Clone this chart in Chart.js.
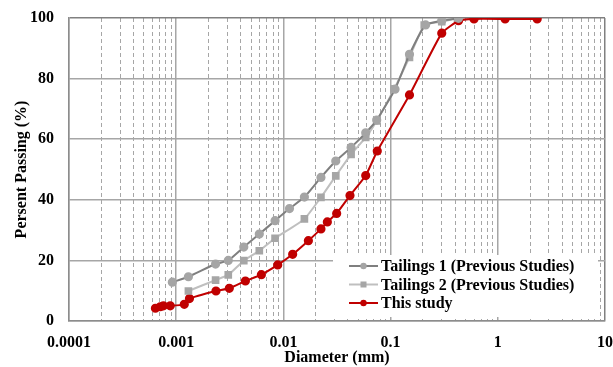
<!DOCTYPE html>
<html>
<head>
<meta charset="utf-8">
<script src="https://cdn.jsdelivr.net/npm/chart.js@4.4.0/dist/chart.umd.min.js"></script>
<style>
  html, body { margin: 0; padding: 0; background: #fff; }
</style>
</head>
<body>
<canvas id="psd" width="613" height="367"></canvas>
<script>
"use strict";
// grain size distribution
const seriesNames = ["Tailings 1 (Previous Studies)", "Tailings 2 (Previous Studies)", "This study"];

const t1Diam = [0.00092, 0.0013, 0.00233, 0.00306, 0.00427, 0.00596, 0.00836, 0.0114, 0.0157, 0.0224, 0.0308, 0.0428, 0.0586, 0.0742, 0.110, 0.150, 0.212, 0.30, 0.43];
const t1Pass = [12.8, 14.6, 18.8, 20.0, 24.4, 28.7, 33.1, 37.1, 40.9, 47.4, 52.8, 57.3, 62.1, 66.3, 76.5, 88.0, 97.7, 99.1, 99.9];

const t2Diam = [0.0013, 0.00233, 0.00306, 0.00427, 0.00596, 0.00836, 0.0157, 0.0224, 0.0308, 0.0428, 0.0586, 0.0742, 0.108, 0.150, 0.206, 0.30, 0.42];
const t2Pass = [9.9, 13.5, 15.2, 19.9, 23.2, 27.3, 33.7, 40.8, 47.9, 55.0, 60.6, 66.0, 76.6, 87.0, 97.7, 98.8, 100];

const studyDiam = [0.00064, 0.00071, 0.00076, 0.00088, 0.00119, 0.00133, 0.00235, 0.00313, 0.00442, 0.00623, 0.00885, 0.0122, 0.0171, 0.0224, 0.0257, 0.0314, 0.0418, 0.0586, 0.0751, 0.150, 0.30, 0.43, 0.60, 1.17, 2.33];
const studyPass = [4.2, 4.7, 5.0, 5.0, 5.5, 7.4, 9.9, 10.8, 13.2, 15.3, 18.5, 22.0, 26.5, 30.4, 32.7, 35.5, 41.4, 48.0, 56.1, 74.6, 95.0, 99.1, 99.7, 99.7, 99.7];

const xTickValues = [0.0001, 0.001, 0.01, 0.1, 1, 10];
const xTickLabels = ["0.0001", "0.001", "0.01", "0.1", "1", "10"];
const minorMultipliers = [2, 3, 4, 5, 6, 7, 8, 9];

const FONT = "'Liberation Serif', 'Times New Roman', serif";

function pts(xs, ys) {
  return xs.map((x, i) => ({ x: x, y: ys[i] }));
}

const minorTicks = [];
xTickValues.slice(0, -1).forEach((d) => {
  minorMultipliers.forEach((m) => minorTicks.push({ value: m * d }));
});

// tick padding otherwise leaks into the outer layout margins
function noEdgePadding(s) {
  s.paddingLeft = 0;
  s.paddingRight = 0;
  s.paddingTop = 0;
  s.paddingBottom = 0;
}

// legend drawn inside the plot, on a white box, like the original
const insideLegend = {
  id: "insideLegend",
  afterDraw(chart) {
    const ctx = chart.ctx;
    const a = chart.chartArea;
    const left = a.left + 264;
    const top = a.bottom - 66;
    ctx.save();
    ctx.fillStyle = "#fff";
    ctx.fillRect(left, top, 265, 62);
    chart.data.datasets.forEach((ds, i) => {
      const y = top + 11 + i * 18.5;
      ctx.strokeStyle = ds.borderColor;
      ctx.lineWidth = 2;
      ctx.beginPath();
      ctx.moveTo(left + 16, y);
      ctx.lineTo(left + 45, y);
      ctx.stroke();
      ctx.fillStyle = ds.pointBackgroundColor;
      const cx = left + 30.5;
      if (ds.pointStyle === "rect") {
        ctx.fillRect(cx - 3, y - 3, 6, 6);
      } else {
        ctx.beginPath();
        ctx.arc(cx, y, 3.2, 0, Math.PI * 2);
        ctx.fill();
      }
      ctx.fillStyle = "#000";
      ctx.font = "bold 16px " + FONT;
      ctx.textBaseline = "middle";
      ctx.textAlign = "left";
      ctx.fillText(ds.label, left + 48, y + 1);
    });
    ctx.restore();
  },
};

const ctx = document.getElementById("psd").getContext("2d");
new Chart(ctx, {
  type: "line",
  data: {
    datasets: [
      {
        label: seriesNames[0],
        data: pts(t1Diam, t1Pass),
        borderColor: "#7f7f7f",
        borderWidth: 2,
        pointStyle: "circle",
        pointRadius: 3.6,
        pointBackgroundColor: "#a5a5a5",
        pointBorderColor: "#a5a5a5",
        tension: 0.15,
      },
      {
        label: seriesNames[1],
        data: pts(t2Diam, t2Pass),
        borderColor: "#bfbfbf",
        borderWidth: 2,
        pointStyle: "rect",
        pointRadius: 4,
        pointBackgroundColor: "#a6a6a6",
        pointBorderColor: "#a6a6a6",
        tension: 0.15,
      },
      {
        label: seriesNames[2],
        data: pts(studyDiam, studyPass),
        borderColor: "#c00000",
        borderWidth: 2,
        pointStyle: "circle",
        pointRadius: 3.6,
        pointBackgroundColor: "#c00000",
        pointBorderColor: "#c00000",
        tension: 0.15,
      },
    ],
  },
  options: {
    responsive: false,
    animation: false,
    layout: { padding: { left: 0, top: 18, right: 8, bottom: 0 } },
    plugins: { legend: { display: false }, tooltip: { enabled: false } },
    scales: {
      xm: {
        type: "logarithmic",
        position: "bottom",
        min: 0.0001,
        max: 10,
        afterBuildTicks: (s) => { s.ticks = minorTicks.map((t) => ({ value: t.value })); },
        afterFit: (s) => { s.height = 0; noEdgePadding(s); },
        ticks: { display: false },
        grid: { color: "#a6a6a6", lineWidth: 1, drawTicks: false },
        border: { display: false, dash: [4, 3] },
      },
      x: {
        type: "logarithmic",
        position: "bottom",
        min: 0.0001,
        max: 10,
        afterBuildTicks: (s) => { s.ticks = xTickValues.map((v) => ({ value: v })); },
        afterFit: (s) => { s.height = 46; noEdgePadding(s); },
        ticks: {
          autoSkip: false,
          maxRotation: 0,
          padding: 12,
          color: "#000",
          font: { family: FONT, size: 16, weight: "bold" },
          callback: (v, i) => xTickLabels[i],
        },
        grid: {
          drawTicks: false,
          lineWidth: 1.5,
          color: (c) => (c.tick && c.tick.value === 10 ? "#808080" : "#a6a6a6"),
        },
        border: { color: "#8c8c8c", width: 1.5 },
        title: {
          display: true,
          text: "Diameter (mm)",
          color: "#000",
          padding: { top: 0, bottom: 0 },
          font: { family: FONT, size: 16, weight: "bold" },
        },
      },
      y: {
        min: 0,
        max: 100,
        afterFit: (s) => { s.width = 69; noEdgePadding(s); },
        ticks: {
          stepSize: 20,
          padding: 15,
          color: "#000",
          font: { family: FONT, size: 16, weight: "bold" },
        },
        grid: {
          drawTicks: false,
          lineWidth: 1.5,
          color: (c) => (c.tick && c.tick.value === 100 ? "#808080" : "#a6a6a6"),
        },
        border: { color: "#8c8c8c", width: 1.5 },
        title: {
          display: true,
          text: "Persent Passing (%)",
          color: "#000",
          padding: { top: 12, bottom: 0 },
          font: { family: FONT, size: 16, weight: "bold" },
        },
      },
    },
  },
  plugins: [insideLegend],
});
</script>
</body>
</html>
